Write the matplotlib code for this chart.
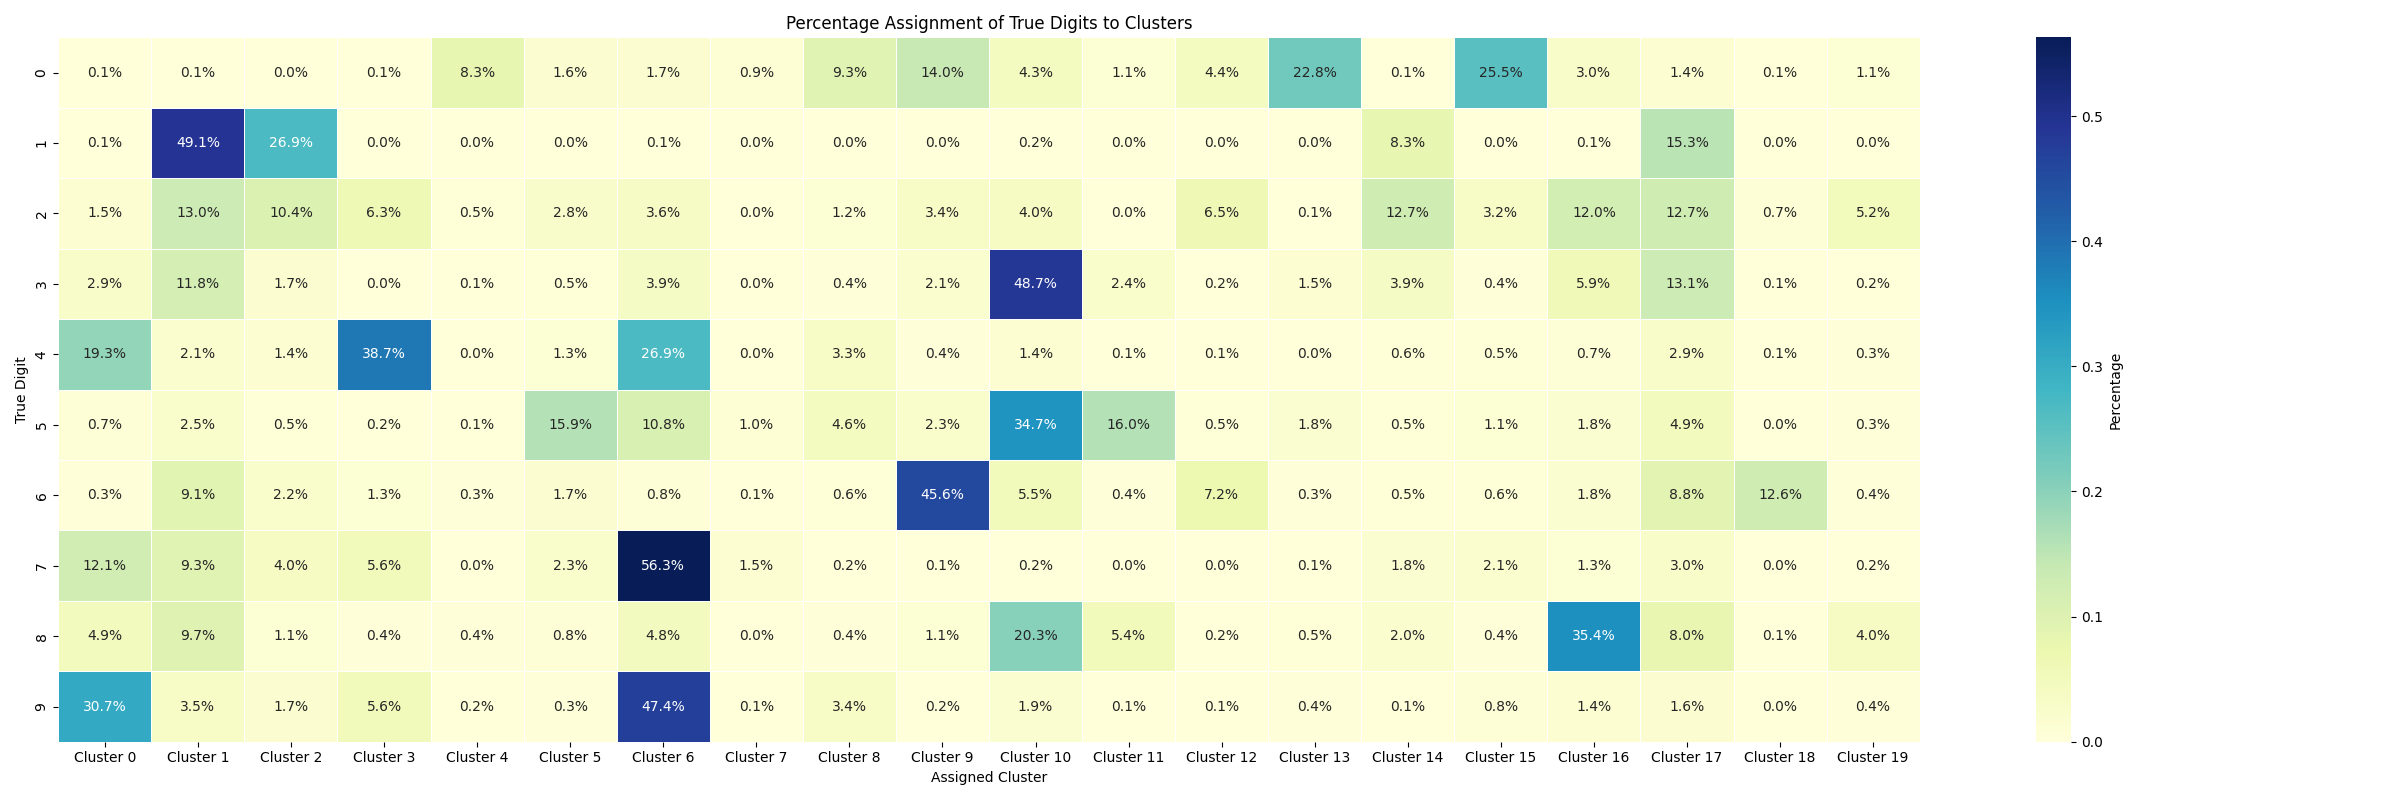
import numpy as np
import matplotlib
matplotlib.use("Agg")
import matplotlib.pyplot as plt
import seaborn as sns

# percentages (rows = true digit, cols = cluster)
digits = [str(d) for d in range(10)]
clusters = ["Cluster %d" % c for c in range(20)]

row0 = [0.1, 0.1, 0.0, 0.1, 8.3, 1.6, 1.7, 0.9, 9.3, 14.0, 4.3, 1.1, 4.4, 22.8, 0.1, 25.5, 3.0, 1.4, 0.1, 1.1]
row1 = [0.1, 49.1, 26.9, 0.0, 0.0, 0.0, 0.1, 0.0, 0.0, 0.0, 0.2, 0.0, 0.0, 0.0, 8.3, 0.0, 0.1, 15.3, 0.0, 0.0]
row2 = [1.5, 13.0, 10.4, 6.3, 0.5, 2.8, 3.6, 0.0, 1.2, 3.4, 4.0, 0.0, 6.5, 0.1, 12.7, 3.2, 12.0, 12.7, 0.7, 5.2]
row3 = [2.9, 11.8, 1.7, 0.0, 0.1, 0.5, 3.9, 0.0, 0.4, 2.1, 48.7, 2.4, 0.2, 1.5, 3.9, 0.4, 5.9, 13.1, 0.1, 0.2]
row4 = [19.3, 2.1, 1.4, 38.7, 0.0, 1.3, 26.9, 0.0, 3.3, 0.4, 1.4, 0.1, 0.1, 0.0, 0.6, 0.5, 0.7, 2.9, 0.1, 0.3]
row5 = [0.7, 2.5, 0.5, 0.2, 0.1, 15.9, 10.8, 1.0, 4.6, 2.3, 34.7, 16.0, 0.5, 1.8, 0.5, 1.1, 1.8, 4.9, 0.0, 0.3]
row6 = [0.3, 9.1, 2.2, 1.3, 0.3, 1.7, 0.8, 0.1, 0.6, 45.6, 5.5, 0.4, 7.2, 0.3, 0.5, 0.6, 1.8, 8.8, 12.6, 0.4]
row7 = [12.1, 9.3, 4.0, 5.6, 0.0, 2.3, 56.3, 1.5, 0.2, 0.1, 0.2, 0.0, 0.0, 0.1, 1.8, 2.1, 1.3, 3.0, 0.0, 0.2]
row8 = [4.9, 9.7, 1.1, 0.4, 0.4, 0.8, 4.8, 0.0, 0.4, 1.1, 20.3, 5.4, 0.2, 0.5, 2.0, 0.4, 35.4, 8.0, 0.1, 4.0]
row9 = [30.7, 3.5, 1.7, 5.6, 0.2, 0.3, 47.4, 0.1, 3.4, 0.2, 1.9, 0.1, 0.1, 0.4, 0.1, 0.8, 1.4, 1.6, 0.0, 0.4]

pct = np.array([row0, row1, row2, row3, row4, row5, row6, row7, row8, row9]) / 100.0

fig, ax = plt.subplots(figsize=(24, 8), dpi=100)
sns.heatmap(pct, annot=True, fmt=".1%", cmap="YlGnBu", linewidths=0.5,
            xticklabels=clusters, yticklabels=digits,
            cbar_kws={"label": "Percentage"}, ax=ax)
ax.set_title("Percentage Assignment of True Digits to Clusters")
ax.set_xlabel("Assigned Cluster")
ax.set_ylabel("True Digit")
plt.tight_layout()
plt.savefig("out.png")
